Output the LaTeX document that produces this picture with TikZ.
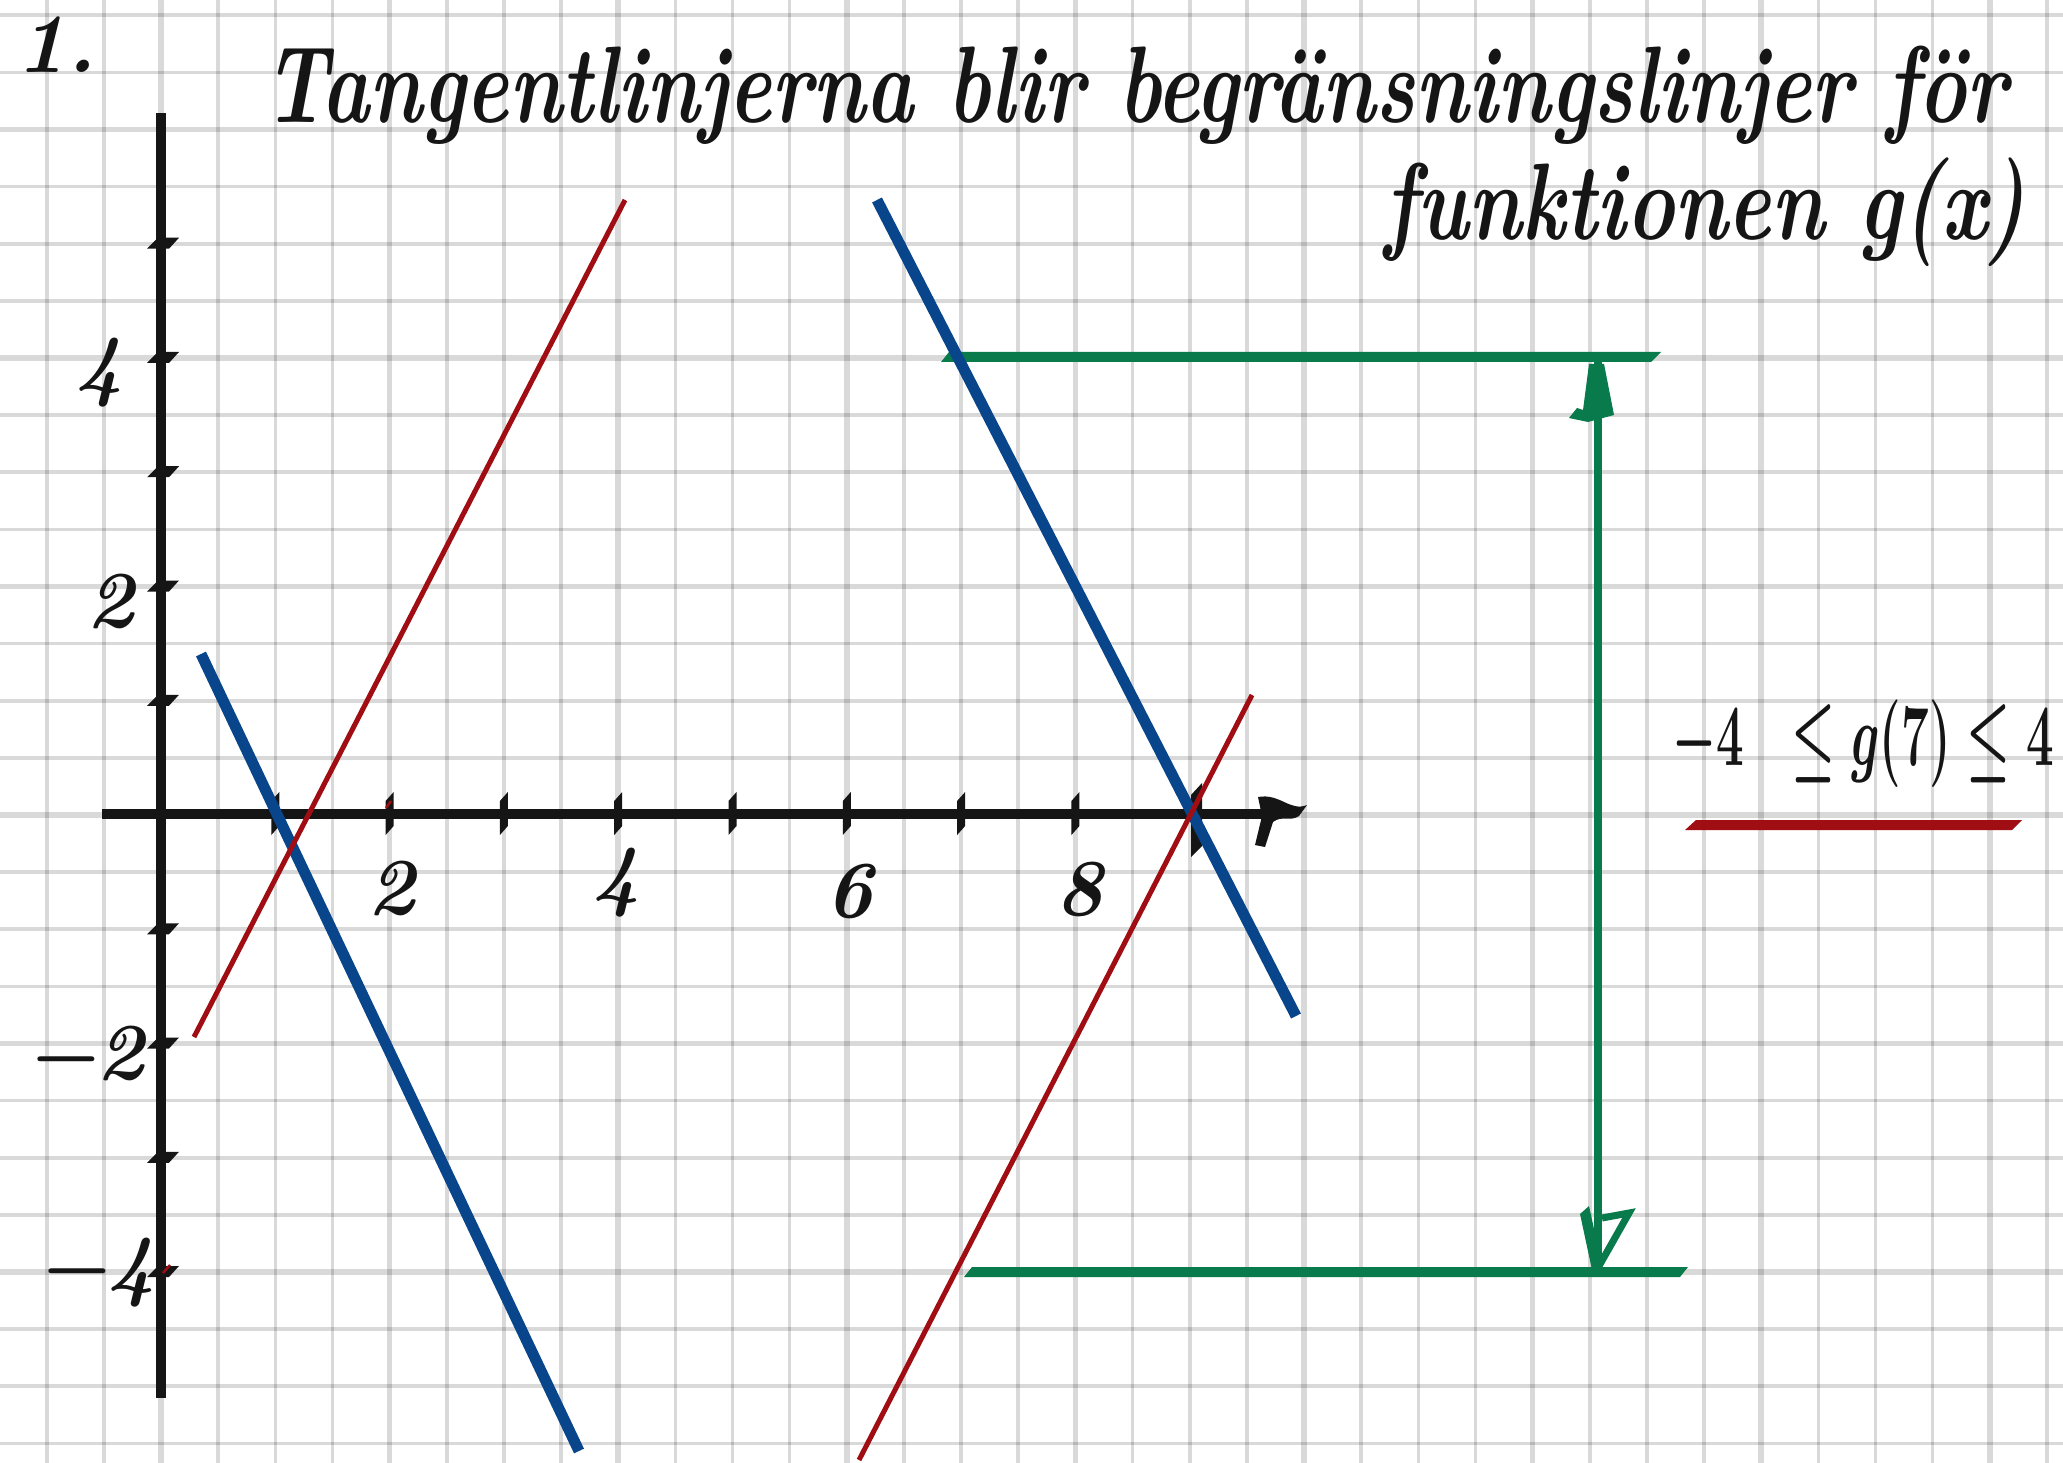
\documentclass[tikz,border=0pt]{standalone}
\usepackage{fontspec}
\usepackage{graphicx}
\definecolor{ink}{HTML}{151515}
\definecolor{myblue}{HTML}{08458A}
\definecolor{myred}{HTML}{A00D12}
\definecolor{mygreen}{HTML}{087A4B}
\begin{document}
\begin{tikzpicture}[x=0.1mm,y=-0.1mm,
  minorgrid/.style={draw=black, draw opacity=0.15, line width=0.36mm},
  majorgrid/.style={draw=black, draw opacity=0.15, line width=0.56mm},
  axisline/.style={draw=ink, line width=1mm},
  blueline/.style={draw=myblue, line width=1.1mm},
  redline/.style={draw=myred, line width=0.5mm},
  hand/.style={inner sep=0pt, text=ink},
  titlefont/.style={font=\bfseries\itshape\fontsize{31pt}{31pt}\selectfont},
  ticklabel/.style={hand, font=\bfseries\itshape\fontsize{23pt}{23pt}\selectfont}]
\useasboundingbox (0,0) rectangle (2063,1463);
\fill[white] (0,0) rectangle (2063,1463);
% grid
\foreach \k in {-2,...,33}{
  \pgfmathsetmacro\gx{161+57.15*\k}
  \pgfmathtruncatemacro\gm{mod(\k+40,4)}
  \ifnum\gm=0 \draw[majorgrid] (\gx,0) -- (\gx,1463); \else \draw[minorgrid] (\gx,0) -- (\gx,1463); \fi
}
\foreach \k in {-11,...,14}{
  \pgfmathsetmacro\gy{815-57.125*\k}
  \pgfmathtruncatemacro\gm{mod(\k+40,4)}
  \ifnum\gm=0 \draw[majorgrid] (0,\gy) -- (2063,\gy); \else \draw[minorgrid] (0,\gy) -- (2063,\gy); \fi
}
% axes
\draw[axisline] (102,814) -- (1262,814);
\draw[axisline] (161,113) -- (161,1398);
\fill[ink] (1258,797) .. controls (1280,793) and (1290,812) .. (1307,805)
  -- (1299,816) .. controls (1290,822) and (1282,815) .. (1273,822)
  -- (1265,847) -- (1255,845) -- (1262,816) -- cycle;
% y ticks
\foreach \k in {-4,-3,-2,-1,1,2,3,4,5}{
  \pgfmathsetmacro\ty{815-114.25*\k}
  \fill[ink] (147,\ty+5) -- (158,\ty-6) -- (179,\ty-6) -- (169,\ty+5) -- cycle;
}
% x ticks
\foreach \k in {1,...,8}{
  \pgfmathsetmacro\tx{161+114.3*\k}
  \fill[ink] (\tx-4,835) -- (\tx-4,801) -- (\tx+4,792) -- (\tx+4,826) -- cycle;
}
\fill[ink] (1191,857) -- (1191,795) -- (1202,783) -- (1202,846) -- cycle;
% tick labels
\node[ticklabel] (lx2) at (391,888) {2};
\node[ticklabel] (lx4) at (616,883) {4};
\node[ticklabel] (lx6) at (849,891) {6};
\node[ticklabel] (lx8) at (1079,889) {8};
\node[ticklabel] (ly4) at (99,373) {4};
\node[ticklabel] (ly2) at (110,601) {2};
\node[ticklabel] (lym2) at (85,1053) {−2};
\node[ticklabel] (lym4) at (96,1273) {−4};
% green bounds
\fill[mygreen] (941,362) -- (949,352) -- (1661,352) -- (1651,362) -- cycle;
\fill[mygreen] (964,1277) -- (972,1267) -- (1688,1267) -- (1680,1277) -- cycle;
\coordinate (gtop) at (1598,357);
\coordinate (gbot) at (1598,1272);
\draw[mygreen, line width=0.8mm] (gtop) -- (gbot);
\fill[mygreen] (1589,364) -- (1604,364) -- (1614,415) -- (1588,422) -- (1569,418) -- (1577,408) -- (1583,410) -- cycle;
\fill[mygreen] (1580,1214) -- (1589,1206) -- (1602,1266) -- (1592,1270) -- cycle;
\draw[mygreen, line width=0.7mm, line join=miter] (1599,1266) -- (1629,1213) -- (1602,1218);
% tangent lines
\draw[blueline] (201,654) -- (579,1451);
\draw[blueline] (877,200) -- (1296,1016);
\draw[redline] (194,1037) -- (625,200);
\draw[redline] (859,1460) -- (1252,695);
\draw[myred, line width=0.25mm] (386,808) -- (391,801);
\draw[myred, line width=0.25mm] (163,1273) -- (170,1265);
% texts
\node[hand, anchor=base west, font=\bfseries\itshape\fontsize{24pt}{24pt}\selectfont] (num) at (16,73) {1.};
\node[hand, anchor=base west, titlefont] (t1) at (263,123) {\resizebox{174.4mm}{\height}{Tangentlinjerna blir begränsningslinjer för}};
\node[hand, anchor=base west, titlefont] (t2) at (1384,240) {\resizebox{64.1mm}{\height}{funktionen g(x)}};
\node[hand, anchor=base west, font=\fontsize{28pt}{28pt}\selectfont\boldmath] (ineq) at (1672,765) {\resizebox{38.1mm}{\height}{$-4\;\;\leq g(7)\leq 4$}};
\fill[myred] (1685,830) -- (1696,820) -- (2022,820) -- (2012,830) -- cycle;
\end{tikzpicture}
\end{document}
